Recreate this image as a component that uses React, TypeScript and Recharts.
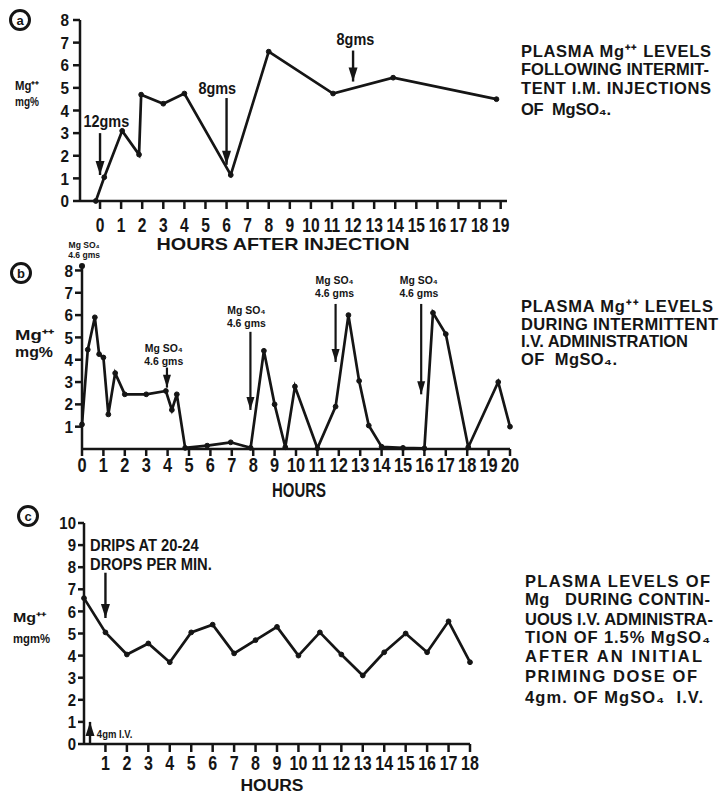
import React from 'react';
import { LineChart, Line, XAxis, YAxis, ReferenceLine, ReferenceDot } from 'recharts';

const INK = '#151515';
const FONT = '"Liberation Sans", Arial, Helvetica, sans-serif';

// ---------- Panel A : intermittent I.M. injections ----------
const hoursA = [-0.2, 0.2, 1.05, 1.85, 1.95, 3, 4, 6.2, 8, 11.05, 13.9, 18.8];
const mgA = [0, 1.05, 3.1, 2.05, 4.7, 4.3, 4.75, 1.15, 6.6, 4.75, 5.45, 4.5];
const xTicksA = [0, 1, 2, 3, 4, 5, 6, 7, 8, 9, 10, 11, 12, 13, 14, 15, 16, 17, 18, 19];
const yTicksA = [0, 1, 2, 3, 4, 5, 6, 7, 8];
const arrowsA = [
  { x: 0, from: 3.0, to: 1.15 },
  { x: 6, from: 4.55, to: 1.6 },
  { x: 12, from: 6.65, to: 5.28 },
];
const notesA = [
  { x: 0.3, y: 3.25, lines: ['12gms'] },
  { x: 5.56, y: 4.73, lines: ['8gms'] },
  { x: 12.11, y: 6.9, lines: ['8gms'] },
];

// ---------- Panel B : intermittent I.V. administration ----------
const hoursB = [0, 0.27, 0.6, 0.8, 1.0, 1.23, 1.55, 2.0, 3.0, 3.92, 4.2, 4.43, 4.82, 5.85, 6.95, 7.88,
  8.5, 9.0, 9.5, 9.95, 11.0, 11.85, 12.45, 12.95, 13.4, 14.0, 15.0, 16.0, 16.4, 17.0, 18.05, 19.45, 20];
const mgB = [1.1, 4.45, 5.9, 4.25, 4.1, 1.55, 3.4, 2.45, 2.45, 2.6, 1.75, 2.45, 0.05, 0.15, 0.3, 0.05,
  4.4, 2.0, 0.08, 2.8, 0.03, 1.9, 6.0, 3.05, 1.05, 0.1, 0.05, 0.03, 6.1, 5.15, 0.08, 3.0, 1.0];
const xTicksB = [0, 1, 2, 3, 4, 5, 6, 7, 8, 9, 10, 11, 12, 13, 14, 15, 16, 17, 18, 19, 20];
const yTicksB = [1, 2, 3, 4, 5, 6, 7, 8];
const arrowsB = [
  { x: 0, from: 8.2, to: 8.2 },
  { x: 3.97, from: 3.65, to: 2.75 },
  { x: 7.87, from: 5.25, to: 1.75 },
  { x: 11.85, from: 6.5, to: 3.9 },
  { x: 15.85, from: 6.5, to: 2.45 },
];
const notesB0 = [
  { x: 0.1, y: 8.57, lines: ['Mg SO₄', '4.6 gms'] },
];
const notesB = [
  { x: 3.82, y: 3.77, lines: ['Mg SO₄', '4.6 gms'] },
  { x: 7.68, y: 5.47, lines: ['Mg SO₄', '4.6 gms'] },
  { x: 11.8, y: 6.83, lines: ['Mg SO₄', '4.6 gms'] },
  { x: 15.74, y: 6.82, lines: ['Mg SO₄', '4.6 gms'] },
];

// ---------- Panel C : continuous I.V. administration ----------
const hoursC = [0, 1, 2, 3, 4, 5, 6, 7, 8, 9, 10, 11, 12, 13, 14, 15, 16, 17, 18];
const mgC = [6.6, 5.05, 4.05, 4.55, 3.7, 5.05, 5.4, 4.1, 4.7, 5.3, 4.0, 5.05, 4.05, 3.1, 4.15, 5.0, 4.15, 5.55, 3.7];
const xTicksC = [1, 2, 3, 4, 5, 6, 7, 8, 9, 10, 11, 12, 13, 14, 15, 16, 17, 18];
const yTicksC = [0, 1, 2, 3, 4, 5, 6, 7, 8, 9, 10];
const arrowsC = [
  { x: 1, from: 7.75, to: 5.7 },
  { x: 0.28, from: 0, to: 1.0 },
];
const notesC = [
  { x: 0.28, y: 7.87, lines: ['DRIPS AT 20-24', 'DROPS PER MIN.'] },
];
const notesC2 = [
  { x: 0.6, y: 0.27, lines: ['4gm I.V.'] },
];

// ---------- side captions ----------
const captionA = ['PLASMA Mg⁺⁺ LEVELS', 'FOLLOWING INTERMIT-', 'TENT I.M. INJECTIONS', 'OF  MgSO₄.'];
const captionB = ['PLASMA Mg⁺⁺ LEVELS', 'DURING INTERMITTENT', 'I.V. ADMINISTRATION', 'OF  MgSO₄.'];
const captionC = ['PLASMA LEVELS OF', 'Mg\u00A0\u00A0 DURING CONTIN-', 'UOUS I.V. ADMINISTRA-', 'TION OF 1.5% MgSO₄',
  'AFTER AN INITIAL', 'PRIMING DOSE OF', '4gm. OF MgSO₄  I.V.'];

const toRows = (hs: number[], vs: number[]) => hs.map((h, i) => ({ h, v: vs[i] }));

const XTick = (p: any) => {
  const { x, y, payload, fs, sx } = p;
  return (
    <g transform={`translate(${x},${y})`}>
      <text transform={`scale(${sx},1)`} textAnchor="middle" y={fs * 0.72} fontSize={fs}
        fontWeight={700} fill={INK} fontFamily={FONT}>{payload.value}</text>
    </g>
  );
};
const YTick = (p: any) => {
  const { x, y, payload, fs, sx } = p;
  return (
    <g transform={`translate(${x},${y})`}>
      <text transform={`scale(${sx},1)`} textAnchor="end" y={fs * 0.36} fontSize={fs}
        fontWeight={700} fill={INK} fontFamily={FONT}>{payload.value}</text>
    </g>
  );
};

const head = (cx: number, cy: number, w: number, l: number, up: boolean) => {
  const s = up ? 1 : -1;
  return <polygon points={`${cx - w / 2},${cy + s * l} ${cx + w / 2},${cy + s * l} ${cx},${cy}`} fill={INK} />;
};

const arrowEls = (arr: any[], pre: string, w: number, l: number, sw: number) => {
  const out: any[] = [];
  arr.forEach((a, i) => {
    const up = a.to > a.from;
    if (a.from !== a.to) {
      out.push(
        <ReferenceLine key={`${pre}l${i}`} segment={[{ x: a.x, y: a.from }, { x: a.x, y: a.to }]}
          stroke={INK} strokeWidth={sw} ifOverflow="visible" />
      );
    }
    out.push(
      <ReferenceDot key={`${pre}h${i}`} x={a.x} y={a.to} r={3} ifOverflow="visible"
        shape={(p: any) => (a.from === a.to
          ? <circle cx={p.cx} cy={p.cy} r={3} fill={INK} />
          : head(p.cx, p.cy, w, l, up))} />
    );
  });
  return out;
};

const noteEls = (arr: any[], pre: string, fs: number, lh: number, anchor: string, sx: number) =>
  arr.map((n, i) => (
    <ReferenceDot key={`${pre}n${i}`} x={n.x} y={n.y} r={1} ifOverflow="visible"
      shape={(p: any) => (
        <g transform={`translate(${p.cx},${p.cy}) scale(${sx},1)`}>
          <text fontSize={fs} fontWeight={700} fill={INK} fontFamily={FONT} textAnchor={anchor as any}>
            {n.lines.map((ln: string, k: number) => (
              <tspan key={k} x={0} y={-(n.lines.length - 1 - k) * lh}>{ln}</tspan>
            ))}
          </text>
        </g>
      )} />
  ));

const axisStyle = { stroke: INK, strokeWidth: 2.5 };

const Caption = ({ lines, x, ys, widths, fs }: any) => (
  <g>
    {lines.map((ln: string, i: number) => (
      <text key={i} x={x} y={ys[i]} fontSize={fs} fontWeight={700} fill={INK} fontFamily={FONT}
        textLength={widths[i]} lengthAdjust="spacing" style={{ whiteSpace: 'pre' }}>{ln}</text>
    ))}
  </g>
);

const Badge = ({ cx, cy, letter }: any) => (
  <g>
    <circle cx={cx} cy={cy} r={9.5} fill="none" stroke={INK} strokeWidth={3} />
    <text x={cx} y={cy + 4.5} textAnchor="middle" fontSize={13} fontWeight={700} fill={INK} fontFamily={FONT}>{letter}</text>
  </g>
);

const T = ({ x, y, fs, w, anchor, children }: any) => (
  <text x={x} y={y} fontSize={fs} fontWeight={700} fill={INK} fontFamily={FONT} textAnchor={anchor || 'start'}
    textLength={w} lengthAdjust="spacingAndGlyphs">{children}</text>
);

export default function App() {
  const dotStyle = { r: 2.4, fill: INK, stroke: INK, strokeWidth: 1 };
  return (
    <div style={{ position: 'absolute', left: 0, top: 0, width: 720, height: 795, background: '#fff', overflow: 'hidden' }}>
      {/* Panel A */}
      <div style={{ position: 'absolute', left: 0, top: 0 }}>
        <LineChart width={720} height={255} data={toRows(hoursA, mgA)}
          margin={{ top: 20, right: 213, bottom: 4, left: 40 }}>
          <XAxis type="number" dataKey="h" domain={[-0.95, 19.3]} ticks={xTicksA} interval={0}
            axisLine={axisStyle} tickLine={axisStyle} tickSize={8} tickMargin={9} height={50}
            tick={(p: any) => <XTick {...p} fs={20} sx={0.78} />} />
          <YAxis type="number" domain={[0, 8]} ticks={yTicksA} interval={0} width={40}
            axisLine={axisStyle} tickLine={axisStyle} tickSize={7} tickMargin={4}
            tick={(p: any) => <YTick {...p} fs={17} sx={0.9} />} />
          <Line type="linear" dataKey="v" stroke={INK} strokeWidth={2.7} dot={dotStyle}
            activeDot={false} isAnimationActive={false} />
          {arrowEls(arrowsA, 'a', 9, 14, 2.4)}
          {noteEls(notesA, 'a', 17, 17, 'middle', 0.85)}
        </LineChart>
      </div>

      {/* Panel B */}
      <div style={{ position: 'absolute', left: 0, top: 230 }}>
        <LineChart width={720} height={270} data={toRows(hoursB, mgB)}
          margin={{ top: 36, right: 210, bottom: 1, left: 42 }}>
          <XAxis type="number" dataKey="h" domain={[0, 20]} ticks={xTicksB} interval={0}
            axisLine={axisStyle} tickLine={axisStyle} tickSize={7} tickMargin={1} height={50}
            tick={(p: any) => <XTick {...p} fs={21} sx={0.78} />} />
          <YAxis type="number" domain={[0, 8.2]} ticks={yTicksB} interval={0} width={40}
            axisLine={axisStyle} tickLine={axisStyle} tickSize={7} tickMargin={2}
            tick={(p: any) => <YTick {...p} fs={17} sx={0.9} />} />
          <Line type="linear" dataKey="v" stroke={INK} strokeWidth={2.7} dot={dotStyle}
            activeDot={false} isAnimationActive={false} />
          {arrowEls(arrowsB, 'b', 8, 13, 2.2)}
          {noteEls(notesB0, 'b0', 9, 10, 'middle', 0.95)}
          {noteEls(notesB, 'b', 11, 13, 'middle', 0.95)}
        </LineChart>
      </div>

      {/* Panel C */}
      <div style={{ position: 'absolute', left: 0, top: 500 }}>
        <LineChart width={720} height={295} data={toRows(hoursC, mgC)}
          margin={{ top: 23, right: 250, bottom: 3, left: 44 }}>
          <XAxis type="number" dataKey="h" domain={[0, 18]} ticks={xTicksC} interval={0}
            axisLine={axisStyle} tickLine={axisStyle} tickSize={8} tickMargin={4} height={48}
            tick={(p: any) => <XTick {...p} fs={20} sx={0.8} />} />
          <YAxis type="number" domain={[0, 10]} ticks={yTicksC} interval={0} width={40}
            axisLine={axisStyle} tickLine={axisStyle} tickSize={6} tickMargin={2}
            tick={(p: any) => <YTick {...p} fs={17} sx={0.88} />} />
          <Line type="linear" dataKey="v" stroke={INK} strokeWidth={2.7} dot={dotStyle}
            activeDot={false} isAnimationActive={false} />
          {arrowEls(arrowsC, 'c', 9, 14, 2.4)}
          {noteEls(notesC, 'c', 16, 19, 'start', 0.92)}
          {noteEls(notesC2, 'c2', 10, 12, 'start', 0.95)}
        </LineChart>
      </div>

      {/* text overlay: panel badges, axis names, captions */}
      <svg width={720} height={795} style={{ position: 'absolute', left: 0, top: 0, pointerEvents: 'none' }}>
        <Badge cx={20} cy={20} letter="a" />
        <Badge cx={21} cy={273} letter="b" />
        <Badge cx={28} cy={516} letter="c" />

        <T x={15} y={90} fs={12} w={24}>Mg⁺⁺</T>
        <T x={15} y={106} fs={12} w={24}>mg%</T>
        <T x={15} y={340} fs={14} w={40}>Mg⁺⁺</T>
        <T x={15} y={357} fs={14} w={38}>mg%</T>
        <T x={13} y={622} fs={13} w={33}>Mg⁺⁺</T>
        <T x={13} y={643} fs={13} w={37}>mgm%</T>

        <T x={283} y={250} fs={17} w={253} anchor="middle">HOURS AFTER INJECTION</T>
        <T x={299} y={497} fs={20} w={54} anchor="middle">HOURS</T>
        <T x={272} y={791} fs={16} w={63} anchor="middle">HOURS</T>

        <Caption lines={captionA} x={521} ys={[57, 75, 94, 115]} widths={[190, 188, 190, 90]} fs={16.5} />
        <Caption lines={captionB} x={521} ys={[312, 330, 347, 365]} widths={[192, 197, 167, 96]} fs={16.5} />
        <Caption lines={captionC} x={525} ys={[587, 605, 625, 643, 662, 682, 703]}
          widths={[185, 185, 188, 185, 177, 172, 178]} fs={16.5} />
      </svg>
    </div>
  );
}
